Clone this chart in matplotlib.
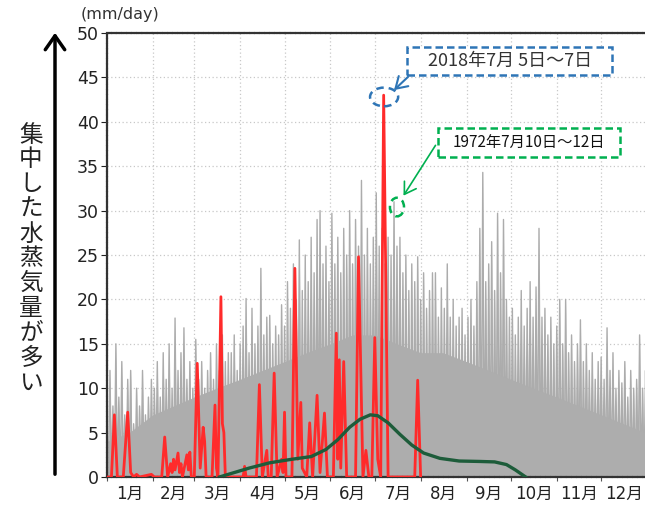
import numpy as np
import matplotlib
matplotlib.use("Agg")
import matplotlib.pyplot as plt
from matplotlib.patches import Ellipse, Rectangle, FancyArrowPatch

plt.rcParams['font.family'] = ['DejaVu Sans', 'Noto Sans CJK JP']
JP = ['Noto Sans CJK JP', 'DejaVu Sans']

# --- data ---
month_labels = ['1月', '2月', '3月', '4月', '5月', '6月', '7月', '8月', '9月', '10月', '11月', '12月']
month_starts = [0, 31, 59, 90, 120, 151, 181, 212, 243, 273, 304, 334, 365]

# all years: spike tops every 2 days
gray_days = np.arange(0, 365, 2)
gray_peaks = [
    6, 12, 8, 15, 9, 13, 7, 11, 12, 6, 10, 8, 12, 7, 9, 11,                  # Jan
    10, 13, 9, 14, 11, 15, 10, 17.9, 12, 14, 16.8, 11, 13, 10,               # Feb
    15.5, 11, 13, 10, 12, 14, 11, 15, 12, 16, 13, 14, 14, 16, 12,            # Mar
    15, 17, 20.1, 14, 19, 15, 17, 23.5, 16, 18, 18.2, 15, 17, 16, 19.4,      # Apr
    17, 22, 19, 24, 20, 26.7, 21, 25, 22, 27, 23, 29, 30, 24, 26, 22,        # May
    29.7, 24, 27, 23, 28, 25, 30, 24, 29, 26, 33.4, 25, 28, 24, 27,          # Jun
    32, 26, 28, 24, 27, 25, 31, 26, 27, 23, 25, 21, 24, 22, 24.8,            # Jul
    20, 23, 19, 21, 23, 23, 18, 21.3, 19, 24, 18, 20, 17, 18, 19, 16,        # Aug
    18, 20, 17, 22, 28, 34.3, 22, 24, 26.5, 21, 29.7, 23, 29, 20, 18,        # Sep
    19, 16, 18, 21, 17, 19, 22, 18, 21.4, 28, 18, 19, 16, 18, 15,            # Oct
    17, 20, 15, 20, 14, 16, 13, 15, 17.7, 13, 15, 12, 14, 11, 13,            # Nov
    13.5, 11, 16.8, 12, 14, 10, 12, 10.6, 13, 9, 12, 10, 11, 16, 10, 12,     # Dec
]
# dense (solid) part of the gray mass
floor_days = [0, 15, 31, 45, 59, 74, 90, 105, 120, 135, 151, 166, 181,
              196, 212, 227, 243, 258, 273, 288, 304, 319, 334, 349, 364]
floor_vals = [4, 5, 7, 8, 9, 10, 11, 12, 13, 14, 15, 16, 16,
              15, 14, 14, 13, 12, 11, 10, 9, 8, 7, 6, 5]

# 2018
red_days = [0, 3, 5, 7, 11, 14, 16, 18, 20, 22, 30, 32, 37, 39, 41, 43, 44, 45, 46, 48,
            49, 50, 51, 54, 55, 56, 57, 59, 61, 63, 65, 66, 67, 71, 73, 74, 75, 77, 78,
            79, 80, 92, 93, 94, 101, 103, 105, 108, 109, 111, 113, 115, 118, 119, 120,
            121, 125, 127, 129, 131, 132, 135, 137, 139, 142, 144, 147, 149, 153, 155,
            156, 157, 158, 160, 162, 168, 170, 173, 175, 177, 179, 181, 183, 185, 187,
            190, 208, 210, 212]
red_vals = [0, 0, 7.0, 0, 0, 7.3, 0.5, 0, 0.3, 0, 0.3, 0, 0, 4.5, 0, 1.5, 0.5, 2.0, 0.8, 2.7,
            0.5, 1.5, 0, 2.5, 0.8, 2.8, 0, 0, 12.8, 1, 5.6, 4, 0, 0, 8.1, 1, 0, 20.3, 6,
            5, 0, 0, 1.2, 0, 0, 10.4, 0, 3, 0, 0, 11.7, 0, 2, 0.5, 7.3,
            0, 0, 23.5, 2, 8.4, 1, 0, 6.1, 0, 9.2, 0.5, 7.2, 0, 0, 16.2,
            2, 13.2, 1, 13, 0, 0, 24.8, 0, 3, 0, 0, 15.7, 2, 0, 43,
            0, 0, 10.9, 0]

# climatology
clim_days = [76, 84, 96, 110, 125, 138, 148, 156, 164, 171, 178, 183, 190, 198,
             206, 214, 225, 238, 252, 262, 270, 276, 283]
clim_vals = [0, 0.4, 1.0, 1.6, 2.0, 2.3, 3.1, 4.2, 5.6, 6.5, 7.0, 6.9, 6.1, 4.8,
             3.6, 2.7, 2.1, 1.8, 1.75, 1.7, 1.4, 0.8, 0]

W, H = 645, 505
fig = plt.figure(figsize=(W / 100, H / 100), dpi=100)
ax = fig.add_axes([107 / W, 28 / H, 540 / W, 444 / H])

# gray: each spike drawn up from the bottom and back down
spike_x = np.column_stack([gray_days - 1.0, gray_days, gray_days + 1.0]).ravel()
spike_y = np.column_stack([np.zeros(len(gray_peaks)), gray_peaks,
                           np.zeros(len(gray_peaks))]).ravel()
ax.fill_between(spike_x, 0, spike_y, color='#b8b8b8', lw=0, zorder=2)
ax.plot(spike_x, spike_y, color='#acacac', lw=1.0, zorder=2)
ax.fill_between(floor_days, 0, floor_vals, color='#adadad', lw=0, zorder=2)
ax.plot(red_days, red_vals, color='#ff2b2b', lw=2.0, zorder=3)
ax.plot(clim_days, clim_vals, color='#1d5c3a', lw=2.4, zorder=4)

ax.set_xlim(0, 365)
ax.set_ylim(0, 50)
ax.set_yticks(range(0, 51, 5))
ax.set_xticks(month_starts[:-1])
ax.set_xticklabels([])
ax.set_xticks([(month_starts[i] + month_starts[i + 1]) / 2 for i in range(12)], minor=True)
ax.set_xticklabels(month_labels, minor=True)
ax.tick_params(axis='x', which='minor', length=0, labelsize=12, pad=6, colors='#222')
ax.tick_params(axis='x', which='major', length=3, direction='out', color='#555')
ax.tick_params(axis='y', length=4, direction='out', labelsize=12.5, pad=2, colors='#222')
ax.grid(True, which='major', color='#c8c8c8', lw=0.9, ls=(0, (1, 2)), zorder=1)
for s in ['left', 'bottom', 'top']:
    ax.spines[s].set_linestyle((0, (1.5, 0.8)))
    ax.spines[s].set_color('#333')
    ax.spines[s].set_linewidth(1.6)
ax.spines['right'].set_visible(False)
ax.set_axisbelow(True)

# annotations
ax.add_patch(Ellipse((187.3, 42.8), 19, 2.1, fill=False, ec='#2e75b6', lw=1.8,
                     ls=(0, (3, 2)), zorder=6, clip_on=False))
ax.add_patch(Ellipse((196, 30.4), 9.5, 2.1, fill=False, ec='#00b050', lw=1.8,
                     ls=(0, (3, 2)), zorder=6, clip_on=False))

def fx(x):
    return x / W

def fy(y):
    return 1 - y / H

fig.add_artist(Rectangle((fx(407), fy(75)), 205 / W, 28 / H, transform=fig.transFigure,
                         fc='white', ec='#2e75b6', lw=1.8, ls=(0, (3, 1.6)), zorder=7))
fig.text(fx(510), fy(61), '2018年7月 5日〜7日', ha='center', va='center', fontsize=13,
         color='#333', family=JP, zorder=8)
fig.add_artist(FancyArrowPatch((fx(410), fy(75)), (fx(392), fy(92)), transform=fig.transFigure,
                               arrowstyle='->,head_length=0.4,head_width=0.25', mutation_scale=20,
                               color='#2e75b6', lw=1.5, zorder=8))

fig.add_artist(Rectangle((fx(438), fy(157)), 182 / W, 29 / H, transform=fig.transFigure,
                         fc='white', ec='#00b050', lw=1.8, ls=(0, (3, 1.6)), zorder=7))
fig.text(fx(529), fy(142), '1972年7月10日〜12日', ha='center', va='center', fontsize=11,
         color='#111', family=JP, zorder=8)
fig.add_artist(FancyArrowPatch((fx(437), fy(143)), (fx(402), fy(198)), transform=fig.transFigure,
                               arrowstyle='->,head_length=0.4,head_width=0.25', mutation_scale=20,
                               color='#00b050', lw=1.2, zorder=8))

fig.text(fx(120), fy(15), '(mm/day)', ha='center', va='center', fontsize=11.5, color='#333')

fig.add_artist(FancyArrowPatch((fx(55), fy(477)), (fx(55), fy(30)), transform=fig.transFigure,
                               arrowstyle='->,head_length=0.5,head_width=0.35', mutation_scale=20,
                               color='black', lw=2.5))
fig.text(fx(31), fy(259), '\n'.join('集中した水蒸気量が多い'), ha='center', va='center',
         fontsize=17, linespacing=1.1, family=JP, color='#222')

fig.savefig('out.png', dpi=100)
